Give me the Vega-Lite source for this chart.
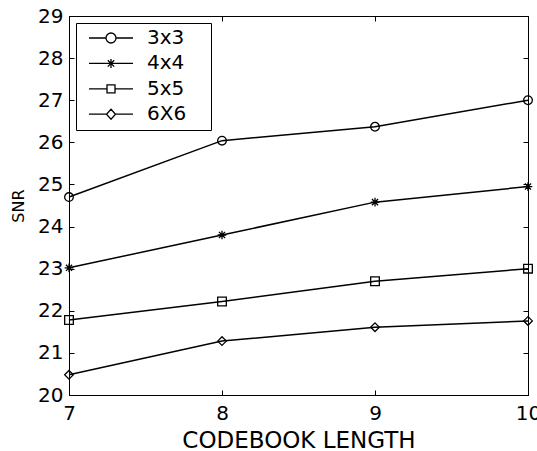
{
  "$schema": "https://vega.github.io/schema/vega-lite/v6.json",
  "width": 459,
  "height": 379,
  "autosize": "none",
  "padding": {"left": 69, "top": 16, "right": 9, "bottom": 56},
  "background": "white",
  "config": {
    "view": {"stroke": "black", "strokeWidth": 1},
    "font": "DejaVu Sans",
    "axis": {
      "domainColor": "black",
      "tickColor": "black",
      "labelColor": "black",
      "titleColor": "black",
      "grid": false,
      "labelFont": "DejaVu Sans",
      "titleFont": "DejaVu Sans",
      "labelFontSize": 20,
      "titleFontWeight": "normal",
      "tickSize": -5,
      "tickWidth": 1
    }
  },
  "data": {
    "values": [
      {"len": 7, "SNR": 24.7, "series": "3x3"},
      {"len": 8, "SNR": 26.04, "series": "3x3"},
      {"len": 9, "SNR": 26.37, "series": "3x3"},
      {"len": 10, "SNR": 27.0, "series": "3x3"},
      {"len": 7, "SNR": 23.02, "series": "4x4"},
      {"len": 8, "SNR": 23.8, "series": "4x4"},
      {"len": 9, "SNR": 24.58, "series": "4x4"},
      {"len": 10, "SNR": 24.95, "series": "4x4"},
      {"len": 7, "SNR": 21.78, "series": "5x5"},
      {"len": 8, "SNR": 22.22, "series": "5x5"},
      {"len": 9, "SNR": 22.7, "series": "5x5"},
      {"len": 10, "SNR": 23.0, "series": "5x5"},
      {"len": 7, "SNR": 20.48, "series": "6X6"},
      {"len": 8, "SNR": 21.28, "series": "6X6"},
      {"len": 9, "SNR": 21.61, "series": "6X6"},
      {"len": 10, "SNR": 21.76, "series": "6X6"}
    ]
  },
  "layer": [
    {
      "mark": {"type": "line", "color": "black", "strokeWidth": 1.5},
      "encoding": {
        "x": {
          "field": "len", "type": "quantitative",
          "scale": {"domain": [7, 10], "nice": false, "zero": false},
          "axis": {"orient": "bottom", "values": [7, 8, 9, 10], "labelPadding": 13, "title": "CODEBOOK LENGTH", "titleFontSize": 23, "titlePadding": 6, "labelFlush": false}
        },
        "y": {
          "field": "SNR", "type": "quantitative",
          "scale": {"domain": [20, 29], "nice": false, "zero": false},
          "axis": {"orient": "left", "values": [20, 21, 22, 23, 24, 25, 26, 27, 28, 29], "labelPadding": 11, "title": "SNR", "titleFontSize": 16, "titlePadding": 11, "labelFlush": false}
        },
        "detail": {"field": "series"}
      }
    },
    {
      "mark": {"type": "point", "filled": false, "stroke": "black", "strokeWidth": 1.3, "size": 75, "opacity": 1},
      "encoding": {
        "x": {
          "field": "len", "type": "quantitative",
          "axis": {"orient": "top", "values": [7, 8, 9, 10], "labels": false, "title": null, "domain": false}
        },
        "y": {
          "field": "SNR", "type": "quantitative",
          "axis": {"orient": "right", "values": [20, 21, 22, 23, 24, 25, 26, 27, 28, 29], "labels": false, "title": null, "domain": false}
        },
        "shape": {
          "field": "series", "type": "nominal",
          "scale": {
            "domain": ["3x3", "4x4", "5x5", "6X6"],
            "range": ["circle", "M0,-1V1M-1,0H1M-0.71,-0.71L0.71,0.71M-0.71,0.71L0.71,-0.71", "square", "diamond"]
          },
          "legend": null
        }
      }
    },
    {
      "mark": {"type": "point", "filled": false, "stroke": "black", "strokeWidth": 1.3, "opacity": 0},
      "encoding": {
        "x": {"field": "len", "type": "quantitative", "axis": null},
        "y": {"field": "SNR", "type": "quantitative", "axis": null},
        "shape": {
          "field": "series", "type": "nominal",
          "scale": {
            "domain": ["3x3", "4x4", "5x5", "6X6"],
            "range": [
              "M-22,0H-5M5,0H22M5,0A5,5 0 1,1 -5,0A5,5 0 1,1 5,0",
              "M-22,0H22M0,-4.5V4.5M-3.2,-3.2L3.2,3.2M-3.2,3.2L3.2,-3.2",
              "M-22,0H-4M4,0H22M-4,-4H4V4H-4Z",
              "M-22,0H-4.5M4.5,0H22M0,-5L4.5,0L0,5L-4.5,0Z"
            ]
          },
          "legend": {
            "orient": "none",
            "legendX": 7,
            "legendY": 7,
            "title": "\u00a0",
            "titleOrient": "right",
            "titlePadding": 20,
            "titleFontSize": 4,
            "padding": 5,
            "strokeColor": "black",
            "fillColor": "white",
            "labelFont": "DejaVu Sans",
            "labelFontSize": 20,
            "labelColor": "black",
            "rowPadding": 5.4,
            "symbolSize": 4,
            "symbolOffset": 20,
            "labelOffset": 26,
            "symbolStrokeColor": "black",
            "symbolFillColor": "transparent",
            "symbolStrokeWidth": 1.3,
            "symbolOpacity": 1,
            "encode": {
              "symbols": {
                "update": {
                  "opacity": {"value": 1},
                  "stroke": {"value": "black"},
                  "fill": {"value": "transparent"}
                }
              }
            }
          }
        }
      }
    }
  ],
  "resolve": {"axis": {"x": "independent", "y": "independent"}, "scale": {"shape": "independent"}}
}
